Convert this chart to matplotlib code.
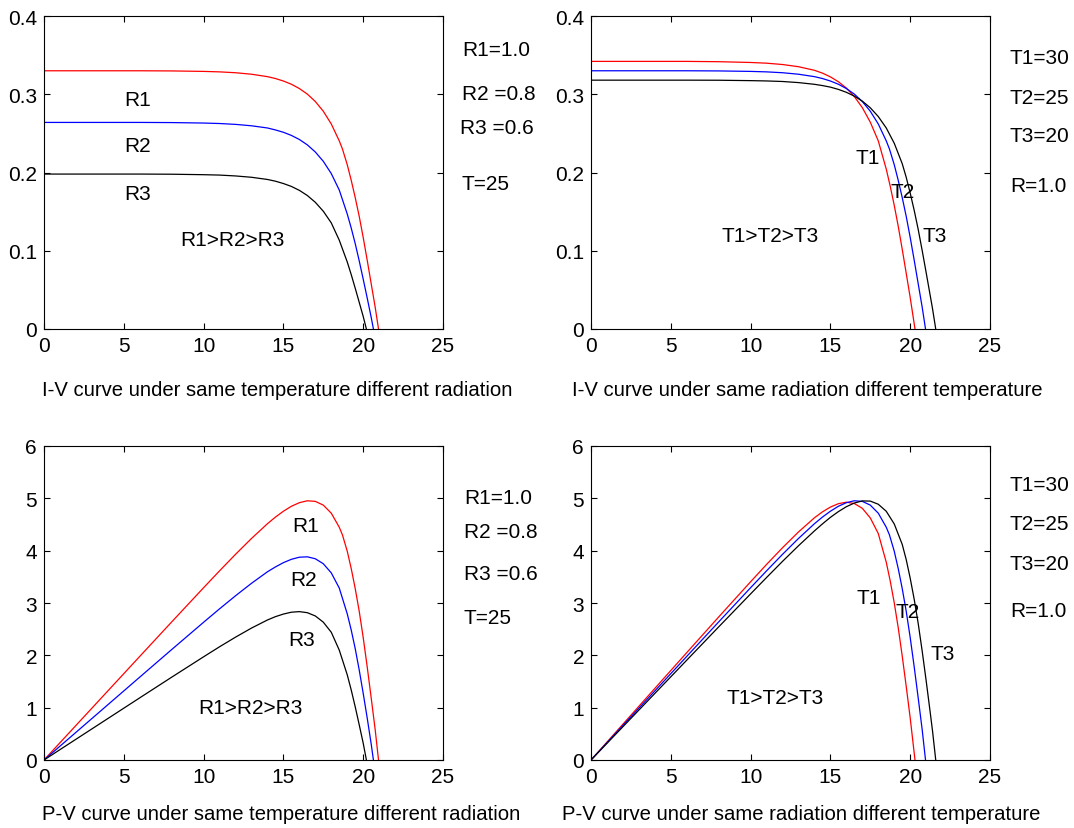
import matplotlib
matplotlib.use("Agg")
import matplotlib.pyplot as plt
import numpy as np

plt.rcParams['font.family'] = ['Liberation Sans', 'DejaVu Sans']

# ---- I-V, same temperature (T=25), different radiation ----
v_r1 = [0, 2, 4, 6, 8, 10, 11, 12, 13, 14, 14.5, 15, 15.5, 16, 16.5, 17, 17.5, 18, 18.5, 18.7,
        19, 19.25, 19.5, 19.75, 20, 20.25, 20.5, 20.75, 20.96]
i_r1 = [0.330, 0.330, 0.330, 0.330, 0.3298, 0.3292, 0.3286, 0.3275, 0.3256, 0.3225, 0.3201, 0.3169,
        0.3128, 0.3073, 0.3002, 0.2907, 0.2783, 0.262, 0.2404, 0.230,
        0.210, 0.190, 0.168, 0.144, 0.117, 0.088, 0.058, 0.028, 0.0]
v_r2 = [0, 2, 4, 6, 8, 10, 11, 12, 13, 14, 14.5, 15, 15.5, 16, 16.5, 17, 17.5, 18, 18.5,
        19, 19.25, 19.5, 19.75, 20, 20.25, 20.5, 20.64]
i_r2 = [0.264, 0.264, 0.264, 0.264, 0.2638, 0.2632, 0.2626, 0.2615, 0.2597, 0.2569, 0.2544, 0.2514,
        0.2474, 0.2422, 0.2353, 0.2262, 0.2143, 0.1986, 0.1776,
        0.1470, 0.1290, 0.1091, 0.0871, 0.0637, 0.0397, 0.0150, 0.0]
v_r3 = [0, 2, 4, 6, 8, 10, 11, 12, 13, 14, 14.5, 15, 15.5, 16, 16.5, 17, 17.5, 18, 18.5,
        19, 19.25, 19.5, 19.75, 20, 20.2]
i_r3 = [0.198, 0.198, 0.198, 0.198, 0.1978, 0.1972, 0.1967, 0.1956, 0.1939, 0.1911, 0.1889, 0.1859,
        0.1822, 0.1772, 0.1706, 0.1619, 0.1505, 0.1356, 0.1135,
        0.0857, 0.0695, 0.0521, 0.0341, 0.0161, 0.0]

# ---- I-V, same radiation (R=1.0), different temperature ----
v_t1 = [0, 2, 4, 6, 8, 10, 11, 12, 13, 14, 14.5, 15, 15.5, 16, 16.5, 17, 17.5, 18, 18.5, 18.75,
        19, 19.25, 19.5, 19.75, 20, 20.3]
i_t1 = [0.342, 0.342, 0.342, 0.342, 0.3416, 0.3406, 0.3397, 0.3380, 0.3352, 0.3306, 0.3270, 0.3222,
        0.3160, 0.3079, 0.2970, 0.2829, 0.2643, 0.2404, 0.2043, 0.1823,
        0.1581, 0.1313, 0.1019, 0.0713, 0.0402, 0.0]
v_t2 = v_r1
i_t2 = i_r1
v_t3 = [0, 2, 4, 6, 8, 10, 11, 12, 13, 14, 14.5, 15, 15.5, 16, 16.5, 17, 17.5, 18, 18.5, 19,
        19.5, 19.75, 20, 20.25, 20.5, 20.75, 21, 21.25, 21.4, 21.6]
i_t3 = [0.318, 0.318, 0.318, 0.318, 0.3179, 0.3174, 0.3170, 0.3163, 0.3149, 0.3127, 0.3111, 0.3091,
        0.3062, 0.3025, 0.2976, 0.2912, 0.2827, 0.2715, 0.2569, 0.2374,
        0.2113, 0.1939, 0.1737, 0.1517, 0.1274, 0.1004, 0.0721, 0.0432, 0.0258, 0.0]

colors = ['#ff0000', '#0000ff', '#000000']
W, H = 1074, 829
FS = 15
fig = plt.figure(figsize=(W/100, H/100), dpi=100)

def ax_at(x0, y0, x1, y1):
    return fig.add_axes([x0/W, 1 - y1/H, (x1-x0)/W, (y1-y0)/H])

def style(ax, ymax, yticks):
    ax.set_xlim(0, 25); ax.set_ylim(0, ymax)
    ax.set_xticks([0, 5, 10, 15, 20, 25]); ax.set_yticks(yticks)
    ax.set_yticklabels([('%g' % t) for t in yticks])
    ax.tick_params(direction='in', length=4, width=0.8, labelsize=FS,
                   top=True, right=True, pad=5)
    for s in ax.spines.values():
        s.set_linewidth(0.8)

def txt(x, y, s, ha='left', fs=FS):
    fig.text(x/W, 1 - y/H, s, fontsize=fs, ha=ha, va='center')

ivR = [(v_r1, i_r1), (v_r2, i_r2), (v_r3, i_r3)]
ivT = [(v_t1, i_t1), (v_t2, i_t2), (v_t3, i_t3)]

# top-left: I-V, radiation
ax1 = ax_at(44, 17, 443, 330)
for (v, i), c in zip(ivR, colors):
    ax1.plot(v, i, color=c, lw=0.9)
style(ax1, 0.4, [0, 0.1, 0.2, 0.3, 0.4])

# top-right: I-V, temperature
ax2 = ax_at(591, 17, 990, 330)
for (v, i), c in zip(ivT, colors):
    ax2.plot(v, i, color=c, lw=0.9)
style(ax2, 0.4, [0, 0.1, 0.2, 0.3, 0.4])

# bottom-left: P-V, radiation (P = V*I)
ax3 = ax_at(44, 447, 443, 761)
for (v, i), c in zip(ivR, colors):
    va = np.asarray(v); ax3.plot(va, va*np.asarray(i), color=c, lw=0.9)
style(ax3, 6, [0, 1, 2, 3, 4, 5, 6])

# bottom-right: P-V, temperature
ax4 = ax_at(591, 447, 990, 761)
for (v, i), c in zip(ivT, colors):
    va = np.asarray(v); ax4.plot(va, va*np.asarray(i), color=c, lw=0.9)
style(ax4, 6, [0, 1, 2, 3, 4, 5, 6])

# annotations top-left
txt(138, 100, 'R1', 'center'); txt(138, 147, 'R2', 'center'); txt(138, 195, 'R3', 'center')
txt(232, 240, 'R1>R2>R3', 'center')
txt(462, 50, 'R1=1.0'); txt(462, 95, 'R2 =0.8'); txt(460, 128, 'R3 =0.6'); txt(462, 184, 'T=25')
# top-right
txt(868, 158, 'T1', 'center'); txt(903, 192, 'T2', 'center'); txt(935, 237, 'T3', 'center')
txt(770, 237, 'T1>T2>T3', 'center')
txt(1010, 59, 'T1=30'); txt(1010, 98, 'T2=25'); txt(1010, 136, 'T3=20'); txt(1010, 186, 'R=1.0')
# bottom-left
txt(306, 527, 'R1', 'center'); txt(304, 580, 'R2', 'center'); txt(302, 641, 'R3', 'center')
txt(250, 709, 'R1>R2>R3', 'center')
txt(464, 499, 'R1=1.0'); txt(464, 533, 'R2 =0.8'); txt(464, 574, 'R3 =0.6'); txt(464, 619, 'T=25')
# bottom-right
txt(869, 599, 'T1', 'center'); txt(908, 613, 'T2', 'center'); txt(943, 655, 'T3', 'center')
txt(775, 698, 'T1>T2>T3', 'center')
txt(1010, 486, 'T1=30'); txt(1010, 525, 'T2=25'); txt(1010, 564, 'T3=20'); txt(1010, 612, 'R=1.0')

# captions
txt(42, 390, 'I-V curve under same temperature different radiation', fs=14.6)
txt(572, 390, 'I-V curve under same radiation different temperature', fs=14.6)
txt(42, 815, 'P-V curve under same temperature different radiation', fs=14.6)
txt(562, 815, 'P-V curve under same radiation different temperature', fs=14.6)

fig.savefig('out.png', dpi=100)
